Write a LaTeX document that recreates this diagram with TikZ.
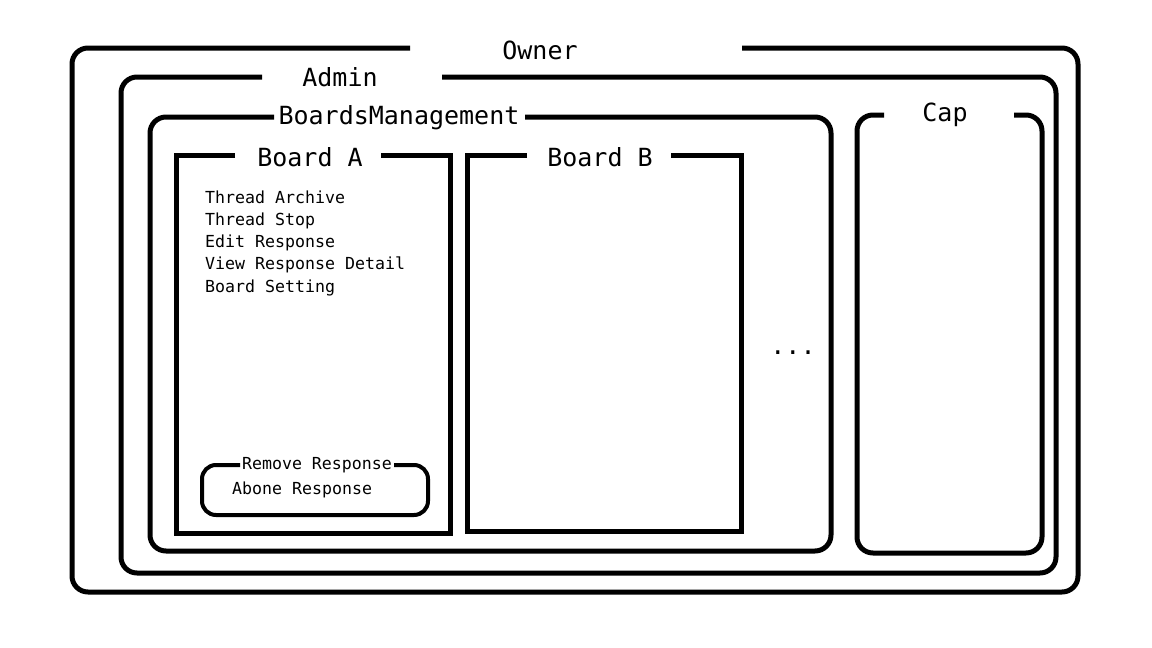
\documentclass[tikz,border=0pt]{standalone}
\usepackage{fontspec}
\setmonofont{DejaVu Sans Mono}

\begin{document}
\begin{tikzpicture}[x=1pt, y=-1pt,
    frame/.style={line width=5pt, rounded corners=16pt},
    board/.style={line width=5pt},
    title/.style={font=\ttfamily\fontsize{25}{30}\selectfont, inner sep=0pt,
        text height=0.73em, text depth=0pt},
    item/.style={font=\ttfamily\fontsize{16.6}{20}\selectfont, inner sep=0pt,
        text height=0.73em, text depth=0pt, anchor=west}]

    \useasboundingbox (0,0) rectangle (1152,648);

    % outer frames
    \draw[frame] (410,48) -- (72,48) -- (72,592) -- (1078,592) -- (1078,48) -- (742,48);
    \node[title] (owner) at (540,56) {Owner};
    \draw[frame] (262,77) -- (121,77) -- (121,573) -- (1056,573) -- (1056,77) -- (442,77);
    \node[title] (admin) at (340,83) {Admin};
    \draw[frame] (274,117) -- (150,117) -- (150,551) -- (831,551) -- (831,117) -- (525,117);
    \node[title] (mgmt) at (399,121) {BoardsManagement};
    \draw[frame] (884,115) -- (857,115) -- (857,553) -- (1042,553) -- (1042,115) -- (1014,115);
    \node[title] (cap) at (945,118) {Cap};

    % boards
    \draw[board] (235,155) -- (176,155) -- (176,533) -- (450,533) -- (450,155) -- (381,155);
    \node[title] (boardA) at (310,163) {Board A};
    \draw[board] (527,155) -- (467,155) -- (467,531) -- (741,531) -- (741,155) -- (671,155);
    \node[title] (boardB) at (600,163) {Board B};
    \node[title] (dots) at (793,351) {...};

    % permissions of board A
    \node[item] (archive) at (205,200) {Thread Archive};
    \node[item] (stop) at (205,222) {Thread Stop};
    \node[item] (edit) at (205,244) {Edit Response};
    \node[item] (detail) at (205,266) {View Response Detail};
    \node[item] (setting) at (205,289) {Board Setting};

    \draw[line width=4pt, rounded corners=14pt] (240,465) -- (202,465) -- (202,515)
        -- (428,515) -- (428,465) -- (394,465);
    \node[item, anchor=center] (remove) at (317,466) {Remove Response};
    \node[item] (abone) at (232,491) {Abone Response};
\end{tikzpicture}
\end{document}
